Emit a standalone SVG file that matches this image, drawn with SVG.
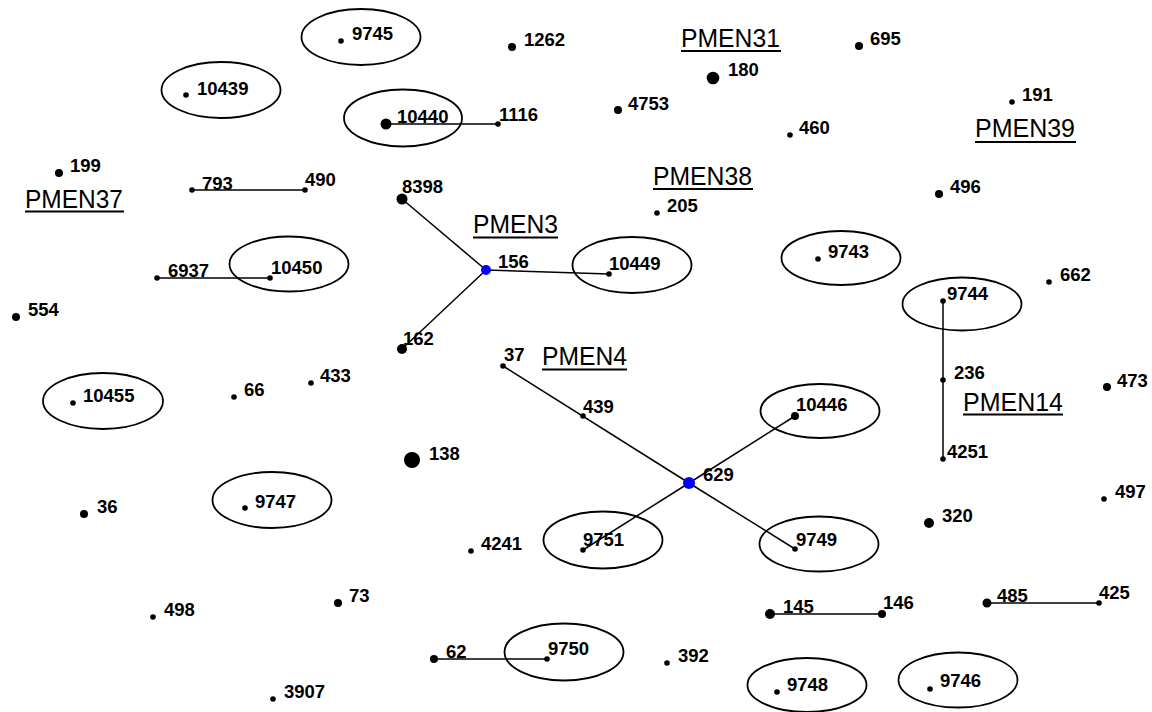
<svg xmlns="http://www.w3.org/2000/svg" width="1152" height="712" viewBox="0 0 1152 712">
<style>
.bg{fill:#fff}
.ell{fill:none;stroke:#000;stroke-width:1.8}
.dot{fill:#000}
.hub{fill:#0000ff}
.lbl{font-family:"Liberation Sans",Arial,sans-serif;font-weight:bold;font-size:18.5px;fill:#000}
.grp{font-family:"Liberation Sans",Arial,sans-serif;font-size:25px;fill:#000}
.ul{stroke:#000;stroke-width:1.8}
.edge{stroke:#000;stroke-width:1.5;fill:none}
</style>
<rect class="bg" x="0" y="0" width="1152" height="712"/>
<g id="connectors">
<line class="edge" x1="192" y1="190" x2="305" y2="190"/>
<line class="edge" x1="386" y1="124" x2="498" y2="124"/>
<line class="edge" x1="157" y1="278" x2="270" y2="278"/>
<line class="edge" x1="402" y1="199" x2="486" y2="270"/>
<line class="edge" x1="402" y1="349" x2="486" y2="270"/>
<line class="edge" x1="486" y1="270" x2="609" y2="274"/>
<line class="edge" x1="503" y1="366" x2="689" y2="483"/>
<line class="edge" x1="689" y1="483" x2="795" y2="416"/>
<line class="edge" x1="689" y1="483" x2="583" y2="550"/>
<line class="edge" x1="689" y1="483" x2="795" y2="549"/>
<line class="edge" x1="943" y1="301" x2="943" y2="459"/>
<line class="edge" x1="434" y1="659" x2="547" y2="659"/>
<line class="edge" x1="770" y1="614" x2="882" y2="614"/>
<line class="edge" x1="987" y1="603" x2="1099" y2="603"/>
</g>
<g id="group-labels">
<g id="PMEN37"><text class="grp" x="25" y="208" textLength="98" lengthAdjust="spacingAndGlyphs">PMEN37</text><line class="ul" x1="25" y1="211.5" x2="124" y2="211.5"/></g>
<g id="PMEN31"><text class="grp" x="681" y="47" textLength="99" lengthAdjust="spacingAndGlyphs">PMEN31</text><line class="ul" x1="681" y1="51" x2="781" y2="51"/></g>
<g id="PMEN38"><text class="grp" x="653" y="185" textLength="99" lengthAdjust="spacingAndGlyphs">PMEN38</text><line class="ul" x1="653" y1="189" x2="753" y2="189"/></g>
<g id="PMEN39"><text class="grp" x="975" y="137" textLength="100" lengthAdjust="spacingAndGlyphs">PMEN39</text><line class="ul" x1="975" y1="142" x2="1076" y2="142"/></g>
<g id="PMEN3"><text class="grp" x="473" y="233" textLength="85" lengthAdjust="spacingAndGlyphs">PMEN3</text><line class="ul" x1="473" y1="237.5" x2="558" y2="237.5"/></g>
<g id="PMEN4"><text class="grp" x="542" y="365" textLength="85" lengthAdjust="spacingAndGlyphs">PMEN4</text><line class="ul" x1="542" y1="369.5" x2="627" y2="369.5"/></g>
<g id="PMEN14"><text class="grp" x="963" y="411" textLength="100" lengthAdjust="spacingAndGlyphs">PMEN14</text><line class="ul" x1="963" y1="414.5" x2="1063" y2="414.5"/></g>
</g>
<g id="n9745"><ellipse class="ell" cx="361" cy="37" rx="59.5" ry="28"/><circle class="dot" cx="341" cy="41" r="2.8"/><text class="lbl" x="352" y="40">9745</text></g>
<g id="n10439"><ellipse class="ell" cx="221" cy="90" rx="59.5" ry="28"/><circle class="dot" cx="186" cy="95" r="2.8"/><text class="lbl" x="197" y="95">10439</text></g>
<g id="n199"><circle class="dot" cx="59" cy="173" r="4"/><text class="lbl" x="70" y="172">199</text></g>
<g id="n793"><circle class="dot" cx="192" cy="190" r="2.8"/><text class="lbl" x="202" y="190">793</text></g>
<g id="n490"><circle class="dot" cx="305" cy="190" r="2.8"/><text class="lbl" x="305" y="186">490</text></g>
<g id="n1262"><circle class="dot" cx="512" cy="47" r="4"/><text class="lbl" x="524" y="46">1262</text></g>
<g id="n180"><circle class="dot" cx="713" cy="78" r="6.3"/><text class="lbl" x="728" y="76">180</text></g>
<g id="n4753"><circle class="dot" cx="618" cy="110" r="4"/><text class="lbl" x="628" y="110">4753</text></g>
<g id="n10440"><ellipse class="ell" cx="403" cy="118" rx="59" ry="28.5"/><circle class="dot" cx="386" cy="124" r="5.5"/><text class="lbl" x="397" y="123">10440</text></g>
<g id="n1116"><circle class="dot" cx="498" cy="124" r="2.8"/><text class="lbl" x="499" y="121">1116</text></g>
<g id="n8398"><circle class="dot" cx="402" cy="199" r="5.5"/><text class="lbl" x="402" y="193">8398</text></g>
<g id="n205"><circle class="dot" cx="657" cy="213" r="2.8"/><text class="lbl" x="667" y="212">205</text></g>
<g id="n695"><circle class="dot" cx="859" cy="46" r="4"/><text class="lbl" x="870" y="45">695</text></g>
<g id="n460"><circle class="dot" cx="790" cy="135" r="2.8"/><text class="lbl" x="799" y="134">460</text></g>
<g id="n191"><circle class="dot" cx="1012" cy="102" r="2.8"/><text class="lbl" x="1022" y="101">191</text></g>
<g id="n496"><circle class="dot" cx="939" cy="194" r="4"/><text class="lbl" x="950" y="193">496</text></g>
<g id="n6937"><circle class="dot" cx="157" cy="278" r="2.8"/><text class="lbl" x="168" y="277">6937</text></g>
<g id="n10450"><ellipse class="ell" cx="289" cy="264" rx="59.5" ry="27.5"/><circle class="dot" cx="270" cy="278" r="2.8"/><text class="lbl" x="271" y="274">10450</text></g>
<g id="n554"><circle class="dot" cx="16" cy="317" r="4"/><text class="lbl" x="28" y="316">554</text></g>
<g id="n10455"><ellipse class="ell" cx="103" cy="401" rx="60" ry="28"/><circle class="dot" cx="73" cy="403" r="2.8"/><text class="lbl" x="83" y="402">10455</text></g>
<g id="n66"><circle class="dot" cx="234" cy="397" r="2.8"/><text class="lbl" x="244" y="396">66</text></g>
<g id="n433"><circle class="dot" cx="311" cy="383" r="2.8"/><text class="lbl" x="320" y="382">433</text></g>
<g id="n156"><circle class="hub" cx="486" cy="270" r="5"/><text class="lbl" x="498" y="268">156</text></g>
<g id="n10449"><ellipse class="ell" cx="632" cy="265" rx="59.5" ry="28"/><circle class="dot" cx="609" cy="274" r="2.8"/><text class="lbl" x="609" y="270">10449</text></g>
<g id="n162"><circle class="dot" cx="402" cy="349" r="5"/><text class="lbl" x="403" y="345">162</text></g>
<g id="n37"><circle class="dot" cx="503" cy="366" r="2.8"/><text class="lbl" x="504" y="361">37</text></g>
<g id="n439"><circle class="dot" cx="583" cy="416" r="2.8"/><text class="lbl" x="583" y="413">439</text></g>
<g id="n138"><circle class="dot" cx="412" cy="460" r="8"/><text class="lbl" x="429" y="460">138</text></g>
<g id="n629"><circle class="hub" cx="689" cy="483" r="6"/><text class="lbl" x="703" y="481">629</text></g>
<g id="n9743"><ellipse class="ell" cx="841" cy="258" rx="59.5" ry="27"/><circle class="dot" cx="818" cy="259" r="2.8"/><text class="lbl" x="828" y="258">9743</text></g>
<g id="n9744"><ellipse class="ell" cx="962" cy="304" rx="59.5" ry="26.5"/><circle class="dot" cx="943" cy="301" r="2.8"/><text class="lbl" x="947" y="300">9744</text></g>
<g id="n662"><circle class="dot" cx="1049" cy="282" r="2.8"/><text class="lbl" x="1060" y="281">662</text></g>
<g id="n236"><circle class="dot" cx="943" cy="380" r="2.8"/><text class="lbl" x="954" y="379">236</text></g>
<g id="n4251"><circle class="dot" cx="943" cy="459" r="2.8"/><text class="lbl" x="947" y="458">4251</text></g>
<g id="n473"><circle class="dot" cx="1107" cy="387" r="4"/><text class="lbl" x="1117" y="387">473</text></g>
<g id="n10446"><ellipse class="ell" cx="820" cy="411" rx="59.5" ry="27"/><circle class="dot" cx="795" cy="416" r="4"/><text class="lbl" x="796" y="411">10446</text></g>
<g id="n36"><circle class="dot" cx="84" cy="514" r="4"/><text class="lbl" x="97" y="513">36</text></g>
<g id="n9747"><ellipse class="ell" cx="272" cy="500" rx="59.5" ry="28"/><circle class="dot" cx="245" cy="508" r="2.8"/><text class="lbl" x="255" y="508">9747</text></g>
<g id="n498"><circle class="dot" cx="153" cy="617" r="2.8"/><text class="lbl" x="164" y="616">498</text></g>
<g id="n73"><circle class="dot" cx="338" cy="603" r="4"/><text class="lbl" x="349" y="602">73</text></g>
<g id="n3907"><circle class="dot" cx="273" cy="699" r="2.8"/><text class="lbl" x="284" y="698">3907</text></g>
<g id="n4241"><circle class="dot" cx="471" cy="551" r="2.8"/><text class="lbl" x="481" y="550">4241</text></g>
<g id="n9751"><ellipse class="ell" cx="603" cy="540" rx="59.5" ry="28.5"/><circle class="dot" cx="583" cy="550" r="2.8"/><text class="lbl" x="583" y="546">9751</text></g>
<g id="n62"><circle class="dot" cx="434" cy="659" r="4"/><text class="lbl" x="446" y="658">62</text></g>
<g id="n9750"><ellipse class="ell" cx="564" cy="652" rx="59.5" ry="28.5"/><circle class="dot" cx="547" cy="659" r="2.8"/><text class="lbl" x="548" y="655">9750</text></g>
<g id="n392"><circle class="dot" cx="667" cy="663" r="2.8"/><text class="lbl" x="678" y="662">392</text></g>
<g id="n9749"><ellipse class="ell" cx="819" cy="544" rx="59.5" ry="27.5"/><circle class="dot" cx="795" cy="549" r="2.8"/><text class="lbl" x="796" y="546">9749</text></g>
<g id="n320"><circle class="dot" cx="929" cy="523" r="5"/><text class="lbl" x="942" y="522">320</text></g>
<g id="n497"><circle class="dot" cx="1104" cy="499" r="2.8"/><text class="lbl" x="1115" y="498">497</text></g>
<g id="n145"><circle class="dot" cx="770" cy="614" r="5"/><text class="lbl" x="783" y="613">145</text></g>
<g id="n146"><circle class="dot" cx="882" cy="614" r="4"/><text class="lbl" x="883" y="609">146</text></g>
<g id="n485"><circle class="dot" cx="987" cy="603" r="4.5"/><text class="lbl" x="997" y="602">485</text></g>
<g id="n425"><circle class="dot" cx="1099" cy="603" r="2.8"/><text class="lbl" x="1099" y="599">425</text></g>
<g id="n9748"><ellipse class="ell" cx="807" cy="685" rx="59.5" ry="27"/><circle class="dot" cx="777" cy="692" r="2.8"/><text class="lbl" x="787" y="691">9748</text></g>
<g id="n9746"><ellipse class="ell" cx="958" cy="680" rx="59.5" ry="27.5"/><circle class="dot" cx="930" cy="689" r="2.8"/><text class="lbl" x="940" y="687">9746</text></g>
</svg>
